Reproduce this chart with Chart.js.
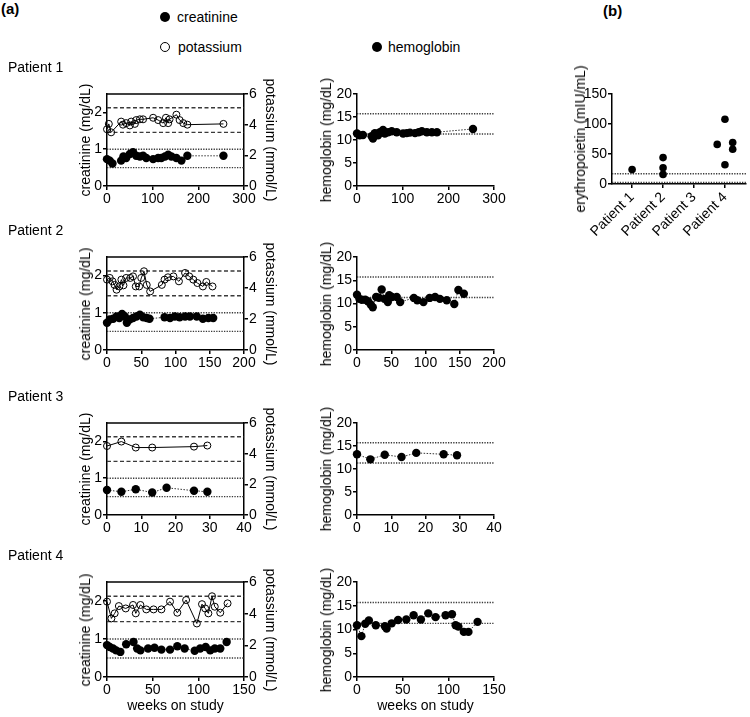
<!DOCTYPE html>
<html><head><meta charset="utf-8">
<script src="https://cdn.jsdelivr.net/npm/chart.js@4.4.1/dist/chart.umd.min.js"></script>
<style>
body{margin:0;background:#fff;width:750px;height:717px;position:relative;overflow:hidden;font-family:"Liberation Sans",Arial,sans-serif;}
canvas{position:absolute;}
.t{position:absolute;font-size:14px;color:#000;white-space:nowrap;line-height:1;}
.b{font-weight:bold;font-size:15px;}
.rl{transform:translate(-50%,-50%) rotate(-90deg);}
.rr{transform:translate(-50%,-50%) rotate(90deg);}
.dot{position:absolute;width:10px;height:10px;border-radius:50%;box-sizing:border-box;}
</style></head><body>
<div class="t b" style="left:1px;top:1px">(a)</div>
<div class="t b" style="left:603px;top:3px">(b)</div>
<div class="dot" style="left:160px;top:12px;background:#000"></div>
<div class="t" style="left:177px;top:10px">creatinine</div>
<div class="dot" style="left:160px;top:42px;border:1.2px solid #000"></div>
<div class="t" style="left:178px;top:40px">potassium</div>
<div class="dot" style="left:372px;top:42px;background:#000"></div>
<div class="t" style="left:388px;top:40px">hemoglobin</div>
<script>
// ---------- data ----------
const patientNames = ["Patient 1", "Patient 2", "Patient 3", "Patient 4"];
const crTicks = [0, 1, 2];
const kTicks = [0, 2, 4, 6];
const hbTicks = [0, 5, 10, 15, 20];
const epoTicks = [0, 50, 100, 150];
const xTicks1 = [0, 100, 200, 300];
const xTicks2 = [0, 50, 100, 150, 200];
const xTicks3 = [0, 10, 20, 30, 40];
const xTicks4 = [0, 50, 100, 150];
const kNormal = [3.5, 5.1];
const crNormal = [0.5, 1.0];
const hbNormal = [11.3, 15.7];
const epoNormal = [2.6, 17];

const p1KWeeks = [0, 4, 9, 31, 35, 42, 50, 53, 61, 64, 72, 79, 101, 112, 123, 129, 134, 137, 152, 159, 167, 176, 255];
const p1K = [3.7, 4.05, 3.5, 4.2, 4.0, 4.1, 3.95, 4.2, 4.05, 4.3, 4.35, 4.35, 4.45, 4.3, 4.1, 4.45, 4.1, 4.35, 4.65, 4.3, 4.1, 4.0, 4.05];
const p1CrWeeks = [0, 6, 12, 31, 36, 42, 50, 57, 64, 72, 79, 86, 101, 112, 119, 127, 134, 141, 152, 163, 176, 255];
const p1Cr = [0.73, 0.69, 0.61, 0.69, 0.8, 0.76, 0.87, 0.92, 0.82, 0.8, 0.82, 0.76, 0.73, 0.76, 0.76, 0.8, 0.85, 0.8, 0.76, 0.69, 0.82, 0.82];
const p1HbWeeks = [0, 6, 13, 32, 35, 39, 46, 50, 57, 61, 68, 76, 87, 101, 109, 116, 127, 135, 142, 153, 164, 175, 254];
const p1Hb = [11.4, 11.0, 11.1, 10.8, 10.3, 11.5, 11.0, 11.7, 12.2, 11.4, 11.7, 11.9, 11.7, 11.4, 11.5, 11.6, 11.5, 11.7, 11.9, 11.7, 11.7, 11.7, 12.4];

const p2KWeeks = [0, 4, 8, 11, 14, 18, 21, 24, 28, 34, 38, 42, 47, 50, 54, 58, 63, 80, 84, 89, 97, 105, 114, 120, 126, 132, 140, 145, 154];
const p2K = [4.54, 4.65, 4.43, 4.2, 3.89, 4.1, 4.54, 4.17, 4.65, 4.65, 4.75, 4.1, 4.1, 4.65, 5.08, 4.2, 3.78, 4.2, 4.54, 4.69, 4.75, 4.43, 4.97, 4.75, 4.54, 4.32, 4.1, 4.39, 4.1];
const p2CrWeeks = [0, 4, 9, 14, 18, 22, 26, 29, 33, 38, 43, 48, 53, 58, 62, 84, 92, 99, 106, 114, 121, 131, 140, 148, 155];
const p2Cr = [0.73, 0.82, 0.84, 0.9, 0.86, 0.97, 0.9, 0.73, 0.82, 0.86, 0.9, 0.95, 0.88, 0.86, 0.84, 0.88, 0.86, 0.9, 0.88, 0.9, 0.9, 0.9, 0.84, 0.86, 0.86];
const p2HbWeeks = [0, 3.5, 7, 12, 16, 20, 23, 28, 32, 36, 40, 45, 47, 51, 58, 63, 83, 88, 97, 106, 114, 121, 131, 142, 148, 156];
const p2Hb = [11.9, 11.0, 10.8, 10.8, 10.5, 9.8, 9.2, 11.4, 11.25, 13.0, 11.0, 10.3, 11.8, 11.4, 11.4, 10.3, 11.2, 10.7, 10.3, 11.2, 11.4, 11.0, 10.7, 9.9, 12.9, 12.1];

const p3KWeeks = [0, 4.2, 8.4, 13.2, 25.4, 29.3];
const p3K = [4.5, 4.79, 4.4, 4.4, 4.46, 4.53];
const p3CrWeeks = [0, 4.2, 8.4, 13.2, 17.4, 25.4, 29.3];
const p3Cr = [0.68, 0.63, 0.70, 0.61, 0.74, 0.66, 0.63];
const p3HbWeeks = [0, 3.9, 8.1, 13, 17.3, 25.3, 29.2];
const p3Hb = [13.2, 12.1, 13.1, 12.6, 13.5, 13.2, 13.0];

const p4KWeeks = [0, 4.8, 8.4, 13, 20.5, 28.5, 31.5, 36.6, 43, 51, 59.6, 69, 77, 86.6, 98.4, 104, 107.5, 111, 115, 118, 124, 132];
const p4K = [4.76, 3.7, 4.02, 4.48, 4.33, 4.55, 4.02, 4.55, 4.27, 4.27, 4.27, 4.76, 4.06, 4.86, 3.38, 4.6, 4.33, 4.02, 5.1, 4.44, 4.06, 4.65];
const p4CrWeeks = [0, 3, 6.6, 10, 14.6, 21, 29, 33, 36.6, 45, 52, 59.6, 69, 77, 85, 96, 102, 108, 113, 118, 124, 131];
const p4Cr = [0.84, 0.79, 0.75, 0.70, 0.66, 0.86, 0.92, 0.75, 0.70, 0.75, 0.77, 0.72, 0.72, 0.81, 0.75, 0.69, 0.75, 0.79, 0.70, 0.75, 0.75, 0.92];
const p4HbWeeks = [0, 4.8, 9, 13, 20.6, 30.5, 32.4, 38, 45, 54, 62, 70, 78, 86, 97, 104, 108, 111, 117, 122, 132];
const p4Hb = [10.9, 8.6, 11.2, 11.9, 10.9, 10.7, 10.2, 11.3, 12.0, 12.1, 13.0, 12.1, 13.4, 12.6, 13.0, 13.2, 10.9, 10.6, 9.5, 9.5, 11.6];

// erythropoietin (panel b): category position (with jitter) and value
const epoPatientPos = [1, 2, 2, 2, 3.75, 4, 4, 4.25, 4.25];
const epoValues = [24, 44, 27, 16, 66, 108, 32, 69, 58];

// ---------- layout ----------
const rowBoxes = [[94, 186], [257, 350], [423, 515], [582, 677]];
const FONT = '"Liberation Sans", Arial, sans-serif';
Chart.defaults.font.family = FONT;
Chart.defaults.font.size = 14;
Chart.defaults.color = '#000';

function mkCanvas(x0, y0, x1, y1) {
  const c = document.createElement('canvas');
  c.width = x1 - x0; c.height = y1 - y0;
  c.style.left = x0 + 'px'; c.style.top = y0 + 'px';
  c.style.width = (x1 - x0) + 'px'; c.style.height = (y1 - y0) + 'px';
  document.body.appendChild(c);
  return c;
}
function label(text, x, y, cls) {
  const d = document.createElement('div');
  d.className = 't' + (cls ? ' ' + cls : '');
  d.textContent = text; d.style.left = x + 'px'; d.style.top = y + 'px';
  document.body.appendChild(d);
}
function series(xs, ys, axis, opts) {
  return Object.assign({ data: xs.map((x, i) => ({ x: x, y: ys[i] })), showLine: true, yAxisID: axis, clip: false }, opts);
}
function refLine(v, xMin, xMax, axis, dash) {
  return { data: [{ x: xMin, y: v }, { x: xMax, y: v }], showLine: true, yAxisID: axis, pointRadius: 0,
    borderColor: '#3a3a3a', borderWidth: 1.4, borderDash: dash, clip: false };
}
function fixedTicks(arr) { return s => { s.ticks = arr.map(v => ({ value: v })); }; }
const axisLine = { display: true, color: '#000', width: 1.5 };
const gridT = { display: true, drawOnChartArea: false, drawTicks: true, tickLength: 4, color: '#000', lineWidth: 1.5 };

const topBorder = {
  id: 'topBorder',
  afterDraw(chart, args, opts) {
    if (!opts.on) return;
    const a = chart.chartArea, ctx = chart.ctx;
    ctx.save(); ctx.strokeStyle = '#000'; ctx.lineWidth = 1.5;
    ctx.beginPath(); ctx.moveTo(a.left - 0.75, a.top); ctx.lineTo(a.right + 0.75, a.top); ctx.stroke();
    ctx.restore();
  }
};

function xScale(xt, last, h) {
  return {
    type: 'linear', min: xt[0], max: xt[xt.length - 1],
    afterBuildTicks: fixedTicks(xt),
    afterFit: s => { s.height = h; },
    border: axisLine, grid: gridT,
    ticks: { padding: 1, maxRotation: 0, font: { size: 14 } },
    title: { display: last, text: 'weeks on study', font: { size: 14 }, padding: { top: 0, bottom: 2 } }
  };
}

function leftPanel(row, kw, k, cw, cr) {
  const [top, bottom] = rowBoxes[row];
  const last = row === 3;
  const xt = [xTicks1, xTicks2, xTicks3, xTicks4][row];
  const x0 = 57, x1 = 300, y0 = top - 10, xh = last ? 40 : 24, y1 = bottom + xh;
  const xMin = xt[0], xMax = xt[xt.length - 1];
  new Chart(mkCanvas(x0, y0, x1, y1), {
    type: 'scatter',
    data: { datasets: [
      series(kw, k, 'yK', { borderColor: '#000', borderWidth: 1, pointRadius: 3.5, pointBackgroundColor: 'rgba(255,255,255,0)', pointBorderColor: '#000', pointBorderWidth: 1 }),
      series(cw, cr, 'yCr', { borderColor: '#333', borderWidth: 1, borderDash: [1.5, 1.5], pointRadius: 4.2, pointBackgroundColor: '#000', pointBorderColor: '#000', pointBorderWidth: 0 }),
      ...kNormal.map(v => refLine(v, xMin, xMax, 'yK', [4, 2.5])),
      ...crNormal.map(v => refLine(v, xMin, xMax, 'yCr', [1.3, 1.3]))
    ] },
    options: {
      responsive: false, animation: false, devicePixelRatio: 1, events: [],
      layout: { padding: { top: top - y0, right: 0, bottom: 0, left: 0 } },
      plugins: { legend: { display: false }, tooltip: { enabled: false }, topBorder: { on: true } },
      scales: {
        x: xScale(xt, last, xh),
        yCr: {
          position: 'left', min: 0, max: 2.5, afterBuildTicks: fixedTicks(crTicks),
          afterFit: s => { s.width = 107 - x0; },
          border: axisLine, grid: gridT, ticks: { padding: 1, font: { size: 14 } }
        },
        yK: {
          position: 'right', min: 0, max: 6, afterBuildTicks: fixedTicks(kTicks),
          afterFit: s => { s.width = x1 - 244; },
          border: axisLine, grid: gridT, ticks: { padding: 1, font: { size: 14 } }
        }
      }
    },
    plugins: [topBorder]
  });
  const cy = (top + bottom) / 2;
  label('creatinine (mg/dL)', 85, cy, 'rl');
  label('potassium (mmol/L)', 271, cy, 'rr');
}

function hbPanel(row, hw, hb) {
  const [top, bottom] = rowBoxes[row];
  const last = row === 3;
  const xt = [xTicks1, xTicks2, xTicks3, xTicks4][row];
  const x0 = 310, x1 = 512, y0 = top - 10, xh = last ? 40 : 24, y1 = bottom + xh;
  const xMin = xt[0], xMax = xt[xt.length - 1];
  new Chart(mkCanvas(x0, y0, x1, y1), {
    type: 'scatter',
    data: { datasets: [
      series(hw, hb, 'y', { borderColor: '#333', borderWidth: 1, borderDash: [1.5, 1.5], pointRadius: 4.2, pointBackgroundColor: '#000', pointBorderColor: '#000', pointBorderWidth: 0 }),
      ...hbNormal.map(v => refLine(v, xMin, xMax, 'y', [1.3, 1.3]))
    ] },
    options: {
      responsive: false, animation: false, devicePixelRatio: 1, events: [],
      layout: { padding: { top: top - y0, right: x1 - 494, bottom: 0, left: 0 } },
      plugins: { legend: { display: false }, tooltip: { enabled: false } },
      scales: {
        x: xScale(xt, last, xh),
        y: {
          position: 'left', min: 0, max: 20, afterBuildTicks: fixedTicks(hbTicks),
          afterFit: s => { s.width = 357 - x0; },
          border: axisLine, grid: gridT, ticks: { padding: 1, font: { size: 14 } }
        }
      }
    }
  });
  label('hemoglobin (mg/dL)', 326, (top + bottom) / 2, 'rl');
}

leftPanel(0, p1KWeeks, p1K, p1CrWeeks, p1Cr);
leftPanel(1, p2KWeeks, p2K, p2CrWeeks, p2Cr);
leftPanel(2, p3KWeeks, p3K, p3CrWeeks, p3Cr);
leftPanel(3, p4KWeeks, p4K, p4CrWeeks, p4Cr);
hbPanel(0, p1HbWeeks, p1Hb);
hbPanel(1, p2HbWeeks, p2Hb);
hbPanel(2, p3HbWeeks, p3Hb);
hbPanel(3, p4HbWeeks, p4Hb);
rowBoxes.forEach((r, i) => label(patientNames[i], 8, r[0] - 34));

// panel (b)
(function () {
  const x0 = 560, x1 = 750, y0 = 84, top = 94, bottom = 184, y1 = 252;
  const xMin = 0.35, xMax = 4.68;
  new Chart(mkCanvas(x0, y0, x1, y1), {
    type: 'scatter',
    data: { datasets: [
      { data: epoPatientPos.map((p, i) => ({ x: p, y: epoValues[i] })), yAxisID: 'y', pointRadius: 3.8, pointBackgroundColor: '#000', pointBorderWidth: 0, clip: false },
      ...epoNormal.map(v => refLine(v, xMin, xMax, 'y', [1.3, 1.3]))
    ] },
    options: {
      responsive: false, animation: false, devicePixelRatio: 1, events: [],
      layout: { padding: { top: top - y0, right: x1 - 749, bottom: 0, left: 0 } },
      plugins: { legend: { display: false }, tooltip: { enabled: false } },
      scales: {
        x: {
          type: 'linear', min: xMin, max: xMax,
          afterBuildTicks: fixedTicks([1, 2, 3, 4]),
          afterFit: s => { s.height = y1 - bottom; },
          border: axisLine, grid: gridT,
          ticks: { padding: 1, minRotation: 45, maxRotation: 45, font: { size: 14 }, callback: v => patientNames[Math.round(v) - 1] }
        },
        y: {
          position: 'left', min: 0, max: 150, afterBuildTicks: fixedTicks(epoTicks),
          afterFit: s => { s.width = 612 - x0; },
          border: axisLine, grid: gridT, ticks: { padding: 1, font: { size: 14 } }
        }
      }
    }
  });
  label('erythropoietin (mIU/mL)', 580, (top + bottom) / 2, 'rl');
})();
</script>
</body></html>
